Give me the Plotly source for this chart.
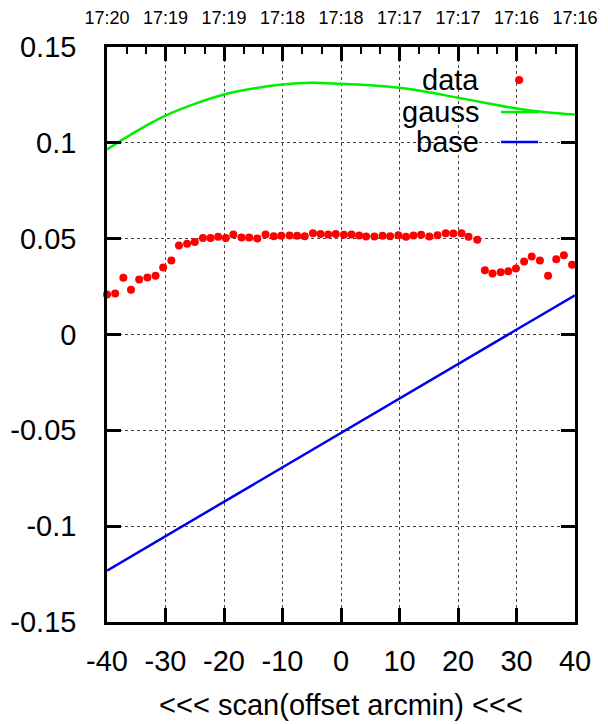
import plotly.graph_objects as go

# scan data (offset arcmin vs value)
offset = [-40.0, -38.6, -37.2, -35.9, -34.5, -33.1, -31.7, -30.4, -29.0, -27.7,
          -26.3, -25.0, -23.6, -22.3, -21.0, -19.7, -18.4, -17.0, -15.7, -14.3,
          -12.9, -11.5, -10.2, -8.8, -7.5, -6.2, -4.8, -3.5, -2.2, -0.9,
          0.5, 1.8, 3.1, 4.3, 5.7, 7.1, 8.4, 9.8, 11.1, 12.4,
          13.7, 15.1, 16.5, 17.9, 19.2, 20.6, 21.8, 23.3, 24.6, 25.9,
          27.3, 28.6, 29.9, 31.3, 32.6, 34.0, 35.4, 36.8, 38.1, 39.5]
value = [0.0209, 0.0214, 0.0296, 0.0233, 0.0287, 0.0297, 0.0306, 0.0350, 0.0386, 0.0464,
         0.0473, 0.0482, 0.0504, 0.0504, 0.0510, 0.0503, 0.0522, 0.0506, 0.0506, 0.0501,
         0.0522, 0.0513, 0.0515, 0.0516, 0.0515, 0.0513, 0.0528, 0.0525, 0.0522, 0.0525,
         0.0520, 0.0522, 0.0516, 0.0511, 0.0511, 0.0515, 0.0513, 0.0518, 0.0510, 0.0516,
         0.0520, 0.0511, 0.0518, 0.0528, 0.0527, 0.0528, 0.0510, 0.0494, 0.0335, 0.0318,
         0.0325, 0.0330, 0.0344, 0.0381, 0.0407, 0.0386, 0.0306, 0.0393, 0.0414, 0.0364]

# fitted curves
gauss_x = [-40, -35, -30, -25, -20, -15, -10, -5, 0, 5, 10, 15, 20, 25, 30, 35, 40]
gauss_y = [0.0965, 0.1060, 0.1142, 0.1203, 0.1252, 0.1283, 0.1304, 0.1313, 0.1308,
           0.1300, 0.1287, 0.1264, 0.1235, 0.1207, 0.1179, 0.1160, 0.1148]
base_x = [-40, 40]
base_y = [-0.1232, 0.0205]

# axis labels
x_ticks = [-40, -30, -20, -10, 0, 10, 20, 30, 40]
time_labels = ["17:20", "17:19", "17:19", "17:18", "17:18", "17:17", "17:17", "17:16", "17:16"]
y_ticks = [-0.15, -0.1, -0.05, 0, 0.05, 0.1, 0.15]
y_labels = ["-0.15", "-0.1", "-0.05", "0", "0.05", "0.1", "0.15"]
minor_top = [t + d for t in x_ticks[:-1] for d in (10 / 3, 20 / 3)]

FONT = "Liberation Sans, Arial, sans-serif"

fig = go.Figure()
fig.add_trace(go.Scatter(x=gauss_x, y=gauss_y, mode="lines", line_shape="spline",
                         line=dict(color="#00ee00", width=2.5), name="gauss"))
fig.add_trace(go.Scatter(x=base_x, y=base_y, mode="lines",
                         line=dict(color="#0000ee", width=2.5), name="base"))
fig.add_trace(go.Scatter(x=offset, y=value, mode="markers", cliponaxis=False,
                         marker=dict(color="#ff0000", size=8), name="data"))
# empty traces to carry the top axes
fig.add_trace(go.Scatter(x=[], y=[], xaxis="x2", showlegend=False))
fig.add_trace(go.Scatter(x=[], y=[], xaxis="x3", showlegend=False))

axis_common = dict(showline=True, linecolor="black", linewidth=2.5, ticks="inside",
                   tickcolor="black", tickwidth=2.5, ticklen=14, automargin=False,
                   showgrid=True, gridcolor="#444444", griddash="dot", gridwidth=1,
                   zeroline=False, tickfont=dict(size=29, color="black", family=FONT))

fig.update_xaxes(range=[-40, 40], tickvals=x_ticks, ticktext=[str(v) for v in x_ticks],
                 mirror="ticks", ticklabelstandoff=11,
                 title=dict(text="<<< scan(offset arcmin) <<<", standoff=20,
                            font=dict(size=29, color="black", family=FONT)),
                 **axis_common)
fig.update_yaxes(range=[-0.15, 0.15], tickvals=y_ticks, ticktext=y_labels,
                 mirror="ticks", ticklabelstandoff=22, **axis_common)

# page has an 8px body margin, so the figure is sized to fit inside the window
fig.update_layout(
    width=600, height=716, autosize=False,
    margin=dict(l=99, r=33, t=39, b=102),
    paper_bgcolor="white", plot_bgcolor="white",
    showlegend=False,
    xaxis2=dict(overlaying="x", side="top", range=[-40, 40], tickvals=x_ticks,
                ticktext=time_labels, ticks="", showgrid=False, showline=False,
                zeroline=False, ticklabelstandoff=18, automargin=False,
                tickfont=dict(size=18, color="black", family=FONT)),
    xaxis3=dict(overlaying="x", side="top", range=[-40, 40], tickvals=minor_top,
                showticklabels=False, ticks="inside", ticklen=7, tickwidth=2,
                tickcolor="black", showgrid=False, showline=False, zeroline=False,
                automargin=False),
)

# key box (hides grid behind key) and key entries
fig.add_shape(type="rect", xref="paper", yref="paper", x0=0.597, x1=0.962, y0=0.807, y1=0.975,
              fillcolor="white", line_width=0, layer="between")
key_font = dict(size=29, color="black", family=FONT)
for label, yy in [("data", 0.9426), ("gauss", 0.887), ("base", 0.835)]:
    fig.add_annotation(text=label, xref="paper", yref="paper", x=0.80, y=yy,
                       xanchor="right", yanchor="middle", showarrow=False, font=key_font)
fig.add_shape(type="circle", xref="paper", yref="paper", xsizemode="pixel", ysizemode="pixel",
              xanchor=0.8806, yanchor=0.9426, x0=-4, x1=4, y0=-4, y1=4,
              fillcolor="#ff0000", line_width=0)
fig.add_shape(type="line", xref="paper", yref="paper", x0=0.842, x1=0.921, y0=0.887, y1=0.887,
              line=dict(color="#00ee00", width=2.5))
fig.add_shape(type="line", xref="paper", yref="paper", x0=0.842, x1=0.921, y0=0.835, y1=0.835,
              line=dict(color="#0000ee", width=2.5))

fig.write_html("out.html")
